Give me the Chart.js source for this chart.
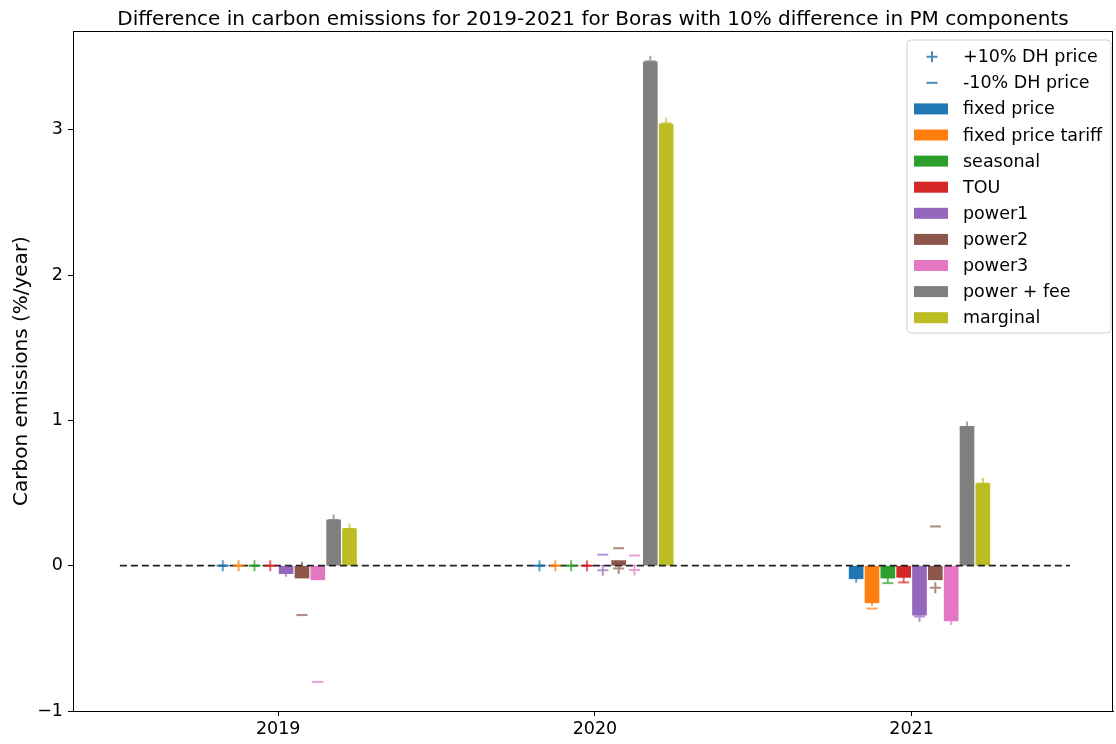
<!DOCTYPE html>
<html>
<head>
<meta charset="utf-8">
<script src="https://cdn.jsdelivr.net/npm/chart.js@4.4.1/dist/chart.umd.min.js"></script>
<style>
  html, body { margin: 0; padding: 0; background: #fff; overflow: hidden; }
  #wrap { width: 1116px; height: 744px; position: relative; }
  #chart { display: block; }
</style>
</head>
<body>
<div id="wrap"><canvas id="chart"></canvas></div>
<script>
// Years on the x axis
const years = ['2019', '2020', '2021'];

// Pricing models (one bar per model in each year)
const models = ['fixed price', 'fixed price tariff', 'seasonal', 'TOU', 'power1',
                'power2', 'power3', 'power + fee', 'marginal'];

// Change in carbon emissions (%/year), base case, one entry per model
const base2019 = [0, 0, 0, 0, -0.055, -0.085, -0.097, 0.315, 0.255];
const base2020 = [0, 0, 0, 0, 0, 0.035, 0, 3.467, 3.04];
const base2021 = [-0.09, -0.255, -0.085, -0.08, -0.34, -0.097, -0.38, 0.96, 0.565];

// Same with district heating price +10%
const plus2019 = [0, 0, 0, 0, -0.038, -0.01, -0.05, 0.315, 0.252];
const plus2020 = [0, 0, 0, 0, -0.032, -0.02, -0.03, 3.472, 3.045];
const plus2021 = [-0.08, -0.24, -0.08, -0.075, -0.35, -0.152, -0.37, 0.955, 0.565];

// Same with district heating price -10%
const minus2019 = [0, 0, 0, 0, -0.05, -0.34, -0.80, 0.31, 0.25];
const minus2020 = [0, 0, 0, 0, 0.076, 0.12, 0.07, 3.44, 3.0];
const minus2021 = [-0.085, -0.295, -0.12, -0.115, -0.33, 0.27, -0.36, 0.95, 0.555];

// Axis tick values
const yTicks = [-1, 0, 1, 2, 3];

const palette = ['#1f77b4', '#ff7f0e', '#2ca02c', '#d62728', '#9467bd',
                 '#8c564b', '#e377c2', '#7f7f7f', '#bcbd22'];

const baseByYear = [base2019, base2020, base2021];
const plusByYear = [plus2019, plus2020, plus2021];
const minusByYear = [minus2019, minus2020, minus2021];

const BAR_STEP = 0.05;
const offsetOf = i => (i - 3.5) * BAR_STEP;

function withAlpha(hex, a) {
  const n = parseInt(hex.slice(1), 16);
  return `rgba(${(n >> 16) & 255},${(n >> 8) & 255},${n & 255},${a})`;
}
const MARK_ALPHA = 0.7;

const barSets = models.map((name, i) => ({
  type: 'bar',
  label: name,
  data: years.map((_, j) => ({ x: j + offsetOf(i), y: baseByYear[j][i] })),
  backgroundColor: palette[i],
  borderWidth: 0,
  barThickness: 14,
  grouped: false,
  order: 3
}));

function markerSet(label, byYear, style) {
  const pts = [], cols = [];
  years.forEach((_, j) => models.forEach((_, i) => {
    pts.push({ x: j + offsetOf(i), y: byYear[j][i] });
    cols.push(withAlpha(palette[i], MARK_ALPHA));
  }));
  return {
    type: 'scatter', label, data: pts,
    pointStyle: style, pointRadius: 5.5, pointBorderWidth: 2,
    pointBorderColor: cols, pointBackgroundColor: cols,
    showLine: false, order: 1
  };
}

const zeroLine = {
  type: 'line', label: 'zero',
  data: [{ x: -0.5, y: 0 }, { x: years.length - 0.5, y: 0 }],
  borderColor: '#222', borderWidth: 1.8, borderDash: [7, 4],
  pointRadius: 0, fill: false, order: 2
};

const plusSet = markerSet('+10% DH price', plusByYear, 'cross');
const minusSet = markerSet('-10% DH price', minusByYear, 'line');

const FONT = '"DejaVu Sans", "Liberation Sans", sans-serif';

// Frame, title and legend drawn on top of the plot
const decorations = {
  id: 'decorations',
  afterDraw(chart) {
    const { ctx, chartArea: a } = chart;
    ctx.save();
    // full box around the axes
    ctx.strokeStyle = '#000';
    ctx.lineWidth = 1;
    ctx.strokeRect(a.left + 0.5, a.top + 0.5, a.right - a.left - 1, a.bottom - a.top);

    // title
    ctx.fillStyle = '#000';
    ctx.font = `20px ${FONT}`;
    ctx.textAlign = 'center';
    ctx.textBaseline = 'alphabetic';
    ctx.fillText('Difference in carbon emissions for 2019-2021 for Boras with 10% difference in PM components',
                 (a.left + a.right) / 2, 25);

    // legend
    const bx = 907, by = 40, bw = 204, bh = 293, r = 4;
    ctx.beginPath();
    ctx.moveTo(bx + r, by);
    ctx.arcTo(bx + bw, by, bx + bw, by + bh, r);
    ctx.arcTo(bx + bw, by + bh, bx, by + bh, r);
    ctx.arcTo(bx, by + bh, bx, by, r);
    ctx.arcTo(bx, by, bx + bw, by, r);
    ctx.closePath();
    ctx.fillStyle = 'rgba(255,255,255,0.8)';
    ctx.fill();
    ctx.strokeStyle = '#d0d0d0';
    ctx.stroke();

    const rowH = 26.1, y0 = 56.7, mx = 932, tx = 963;
    ctx.font = `17.5px ${FONT}`;
    ctx.textAlign = 'left';
    ctx.textBaseline = 'middle';
    const entries = [
      { text: plusSet.label, kind: 'plus', color: palette[0] },
      { text: minusSet.label, kind: 'minus', color: palette[0] },
      ...models.map((m, i) => ({ text: m, kind: 'patch', color: palette[i] }))
    ];
    entries.forEach((e, k) => {
      const y = y0 + k * rowH;
      if (e.kind === 'patch') {
        ctx.fillStyle = e.color;
        ctx.fillRect(914, y - 5.5, 34, 11);
      } else {
        ctx.strokeStyle = withAlpha(e.color, 0.85);
        ctx.lineWidth = 2;
        ctx.beginPath();
        ctx.moveTo(mx - 5.5, y); ctx.lineTo(mx + 5.5, y);
        if (e.kind === 'plus') { ctx.moveTo(mx, y - 5.5); ctx.lineTo(mx, y + 5.5); }
        ctx.stroke();
      }
      ctx.fillStyle = '#000';
      ctx.fillText(e.text, tx, y + 1);
    });
    ctx.restore();
  }
};

new Chart(document.getElementById('chart'), {
  type: 'bar',
  data: { datasets: [...barSets, zeroLine, plusSet, minusSet] },
  options: {
    responsive: true,
    maintainAspectRatio: false,
    devicePixelRatio: 1,
    animation: false,
    layout: { autoPadding: false, padding: { top: 31, right: 3, bottom: 0, left: 0 } },
    plugins: { legend: { display: false }, tooltip: { enabled: false }, title: { display: false } },
    scales: {
      x: {
        type: 'linear',
        min: -0.648, max: 2.636,
        offset: false,
        grid: { display: true, offset: false, drawOnChartArea: false, drawTicks: true, tickLength: 5, color: '#000' },
        border: { display: true, color: '#000', width: 1 },
        afterBuildTicks: s => { s.ticks = years.map((_, j) => ({ value: j })); },
        afterFit: s => { s.height = 33; s.paddingLeft = 0; s.paddingRight = 0; },
        ticks: {
          autoSkip: false, maxRotation: 0, padding: 3, color: '#000',
          font: { family: FONT, size: 17.5 },
          callback: v => years[v]
        }
      },
      y: {
        type: 'linear',
        min: -1.0, max: 3.68,
        grid: { display: true, drawOnChartArea: false, drawTicks: true, tickLength: 5, color: '#000' },
        border: { display: true, color: '#000', width: 1 },
        afterBuildTicks: s => { s.ticks = yTicks.map(v => ({ value: v })); },
        afterFit: s => { s.width = 73; s.paddingTop = 0; s.paddingBottom = 0; },
        ticks: {
          padding: 5, color: '#000',
          font: { family: FONT, size: 17.5 },
          callback: v => (v < 0 ? '\u2212' + Math.abs(v) : String(v))
        },
        title: {
          display: true, text: 'Carbon emissions (%/year)', color: '#000',
          font: { family: FONT, size: 20 }, padding: { top: 10, bottom: 0 }
        }
      }
    }
  },
  plugins: [decorations]
});
</script>
</body>
</html>
